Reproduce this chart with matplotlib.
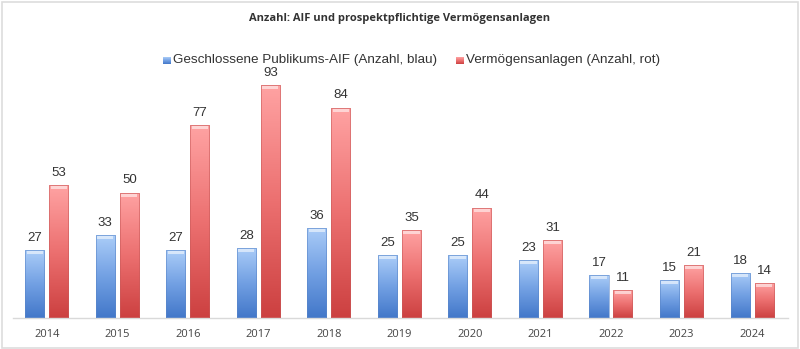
import numpy as np
import matplotlib.pyplot as plt
from matplotlib.colors import LinearSegmentedColormap
from matplotlib.patches import Rectangle

jahre = ['2014', '2015', '2016', '2017', '2018', '2019', '2020', '2021', '2022', '2023', '2024']
aif = [27, 33, 27, 28, 36, 25, 25, 23, 17, 15, 18]
vermoegensanlagen = [53, 50, 77, 93, 84, 35, 44, 31, 11, 21, 14]

blau = LinearSegmentedColormap.from_list('blau', ['#4277c9', '#72a0e3', '#abcdf8'])
rot = LinearSegmentedColormap.from_list('rot', ['#cc4040', '#ec7070', '#ffa3a3'])

fig = plt.figure(figsize=(8, 3.49), dpi=100)
fig.patch.set_facecolor('white')
# thin frame round the whole figure
fig.add_artist(Rectangle((0.002, 0.004), 0.996, 0.99, transform=fig.transFigure,
                         fill=False, edgecolor='#dddddd', lw=1.2))

ax = fig.add_axes([0.016, 0.0888, 0.969, 0.718])
x = np.arange(len(jahre))
w = 0.27
off = 0.17

grad = np.linspace(0, 1, 256).reshape(-1, 1)


def gradient_bars(xs, vals, cmap, edge):
    bars = ax.bar(xs, vals, width=w, color='none', edgecolor=edge, lw=0.4, zorder=3)
    for b, v in zip(bars, vals):
        x0 = b.get_x()
        im = ax.imshow(grad, cmap=cmap, origin='lower', aspect='auto',
                       extent=(x0, x0 + w, 0, v), zorder=2, interpolation='bicubic')
        im.set_clip_path(b)
        # glossy cap at the top
        ax.add_patch(Rectangle((x0 + 0.02, v - 1.6), w - 0.04, 1.2,
                               facecolor='white', alpha=0.55, lw=0, zorder=4))
        ax.text(x0 + w / 2, v + 2.5, str(v), ha='center', va='bottom',
                fontsize=9.5, color='#333333', family='Liberation Sans')
    return bars


gradient_bars(x - off, aif, blau, '#5a86c8')
gradient_bars(x + off, vermoegensanlagen, rot, '#c85a5a')

ax.set_xlim(-0.482, 10.51)
ax.set_ylim(0, 100)
ax.set_yticks([])
ax.set_xticks(x)
ax.set_xticklabels(jahre, fontsize=8, color='#444444', family='Open Sans')
ax.tick_params(axis='x', length=0, pad=8)
for s in ['top', 'right', 'left']:
    ax.spines[s].set_visible(False)
ax.spines['bottom'].set_color('#d9d9d9')
ax.spines['bottom'].set_linewidth(1)

fig.text(0.5, 0.948, 'Anzahl: AIF und prospektpflichtige Vermögensanlagen',
         ha='center', va='center', fontsize=8, fontweight='bold',
         color='#333333', family='Open Sans')

# legend with small gradient squares
leg = [('Geschlossene Publikums-AIF (Anzahl, blau)', blau, 0.204),
       ('Vermögensanlagen (Anzahl, rot)', rot, 0.57)]
for label, cmap, xl in leg:
    lax = fig.add_axes([xl, 0.817, 0.009, 0.02])
    lax.imshow(grad, cmap=cmap, origin='lower', aspect='auto')
    lax.set_axis_off()
    fig.text(xl + 0.012, 0.828, label, ha='left', va='center', fontsize=9.7,
             color='#333333', family='Liberation Sans')

fig.savefig('out.png', dpi=100)
